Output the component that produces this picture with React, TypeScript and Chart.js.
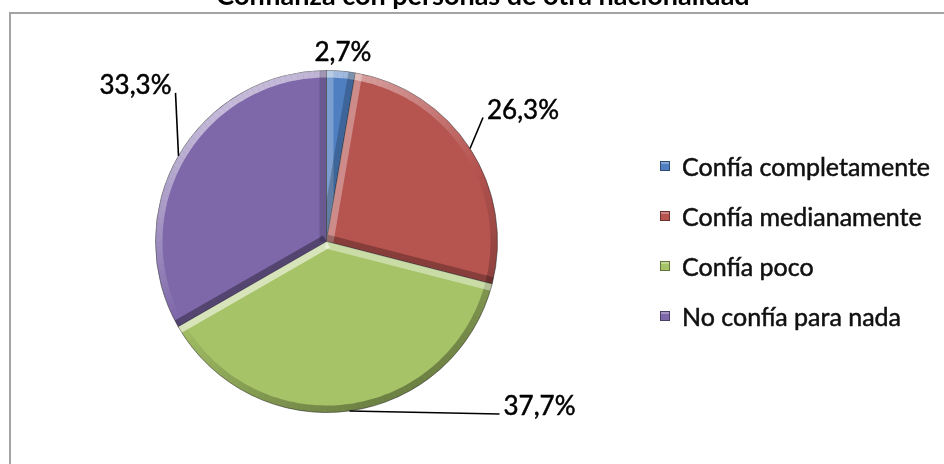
import React, { useEffect, useRef } from "react";
import { Chart, registerables } from "chart.js";

Chart.register(...registerables);

// ---- data ----
const TITLE = "Confianza con personas de otra nacionalidad";
const categories = [
  "Confía completamente",
  "Confía medianamente",
  "Confía poco",
  "No confía para nada",
];
const values = [2.7, 26.3, 37.7, 33.3];
const valueLabels = ["2,7%", "26,3%", "37,7%", "33,3%"];
const sliceColors = ["#4F7FC0", "#B65450", "#A6C367", "#7E68AA"];

// ---- style ----
const W = 944;
const H = 464;
const FONT = "Lato, 'Open Sans', sans-serif";
const LABEL_FONT = `26px ${FONT}`;
const LEGEND_FONT = `25px ${FONT}`;
const TITLE_FONT = `bold 27px ${FONT}`;
const LIGHT = { x: -0.45, y: -0.89 };
const BEVEL = 7;

// offsets of each leader end from its slice's outer mid-point
const LABEL_LAYOUT = [
  { dx: 2, dy: -11, align: "center", leader: false },
  { dx: 13, dy: -31, align: "left", leader: true },
  { dx: 150, dy: 3, align: "left", leader: true },
  { dx: -3, dy: -63, align: "right", leader: true },
];

const LEGEND = { squareX: 660, textX: 682, firstBaseline: 176, step: 50, square: 10 };

function shade(nx: number, ny: number, k = 1) {
  const d = nx * LIGHT.x + ny * LIGHT.y;
  return d >= 0
    ? `rgba(255,255,255,${(0.55 * d * k).toFixed(3)})`
    : `rgba(0,0,0,${(0.34 * -d * k).toFixed(3)})`;
}

function boldText(ctx: CanvasRenderingContext2D, text: string, x: number, y: number) {
  ctx.fillText(text, x, y);
  ctx.lineWidth = 0.5;
  ctx.strokeStyle = ctx.fillStyle as string;
  ctx.strokeText(text, x, y);
}

const decor = {
  id: "decor",
  beforeDraw(chart: any) {
    const ctx = chart.ctx as CanvasRenderingContext2D;
    ctx.save();
    ctx.fillStyle = "#ffffff";
    ctx.fillRect(0, 0, W, H);
    // frame
    ctx.strokeStyle = "#a3a3a3";
    ctx.lineWidth = 2;
    ctx.strokeRect(10, 13, 2000, 2000);
    // title (clipped at the top of the picture)
    ctx.fillStyle = "#000000";
    ctx.font = TITLE_FONT;
    ctx.textAlign = "center";
    ctx.textBaseline = "alphabetic";
    ctx.fillText(TITLE, 483, 5);
    ctx.restore();
  },
  afterDatasetsDraw(chart: any) {
    const ctx = chart.ctx as CanvasRenderingContext2D;
    const meta = chart.getDatasetMeta(0);
    // bevel
    meta.data.forEach((arc: any) => {
      const { x, y, startAngle: s, endAngle: e, outerRadius: r } = arc.getProps(
        ["x", "y", "startAngle", "endAngle", "outerRadius"],
        true
      );
      ctx.save();
      ctx.beginPath();
      ctx.moveTo(x, y);
      ctx.arc(x, y, r, s, e);
      ctx.closePath();
      ctx.clip();
      ctx.lineCap = "butt";
      ctx.lineWidth = BEVEL * 2;
      const steps = Math.max(2, Math.ceil((e - s) / (Math.PI / 90)));
      for (let k = 0; k < steps; k++) {
        const a0 = s + ((e - s) * k) / steps;
        const a1 = s + ((e - s) * (k + 1)) / steps;
        const am = (a0 + a1) / 2;
        ctx.strokeStyle = shade(Math.cos(am), Math.sin(am));
        ctx.beginPath();
        ctx.arc(x, y, r, a0, a1);
        ctx.stroke();
      }
      // radial edges
      ctx.strokeStyle = shade(Math.sin(s), -Math.cos(s));
      ctx.beginPath();
      ctx.moveTo(x, y);
      ctx.lineTo(x + r * Math.cos(s), y + r * Math.sin(s));
      ctx.stroke();
      ctx.strokeStyle = shade(-Math.sin(e), Math.cos(e));
      ctx.beginPath();
      ctx.moveTo(x, y);
      ctx.lineTo(x + r * Math.cos(e), y + r * Math.sin(e));
      ctx.stroke();
      ctx.restore();
    });
  },
  afterDraw(chart: any) {
    const ctx = chart.ctx as CanvasRenderingContext2D;
    const meta = chart.getDatasetMeta(0);
    ctx.save();
    // value labels with leader lines
    meta.data.forEach((arc: any, i: number) => {
      const { x, y, startAngle: s, endAngle: e, outerRadius: r } = arc.getProps(
        ["x", "y", "startAngle", "endAngle", "outerRadius"],
        true
      );
      const m = (s + e) / 2;
      const ax = x + r * Math.cos(m);
      const ay = y + r * Math.sin(m);
      const lay = LABEL_LAYOUT[i];
      const ex = ax + lay.dx;
      const ey = ay + lay.dy;
      if (lay.leader) {
        ctx.strokeStyle = "#000000";
        ctx.lineWidth = 1.6;
        ctx.beginPath();
        ctx.moveTo(ax, ay);
        ctx.lineTo(ex, ey);
        ctx.stroke();
      }
      ctx.fillStyle = "#000000";
      ctx.font = LABEL_FONT;
      ctx.textBaseline = "alphabetic";
      ctx.textAlign = lay.align as CanvasTextAlign;
      const tx = lay.align === "left" ? ex + 4 : lay.align === "right" ? ex - 4 : ex;
      boldText(ctx, valueLabels[i], tx, ey + 1);
    });
    // legend
    categories.forEach((label, i) => {
      const base = LEGEND.firstBaseline + LEGEND.step * i;
      const sq = LEGEND.square;
      const sy = base - 15;
      ctx.fillStyle = sliceColors[i];
      ctx.fillRect(LEGEND.squareX, sy, sq, sq);
      ctx.fillStyle = "rgba(255,255,255,0.3)";
      ctx.fillRect(LEGEND.squareX + 1, sy + 1, sq - 2, 2);
      ctx.strokeStyle = "rgba(0,0,0,0.4)";
      ctx.lineWidth = 1;
      ctx.strokeRect(LEGEND.squareX + 0.5, sy + 0.5, sq - 1, sq - 1);
      ctx.fillStyle = "#111111";
      ctx.font = LEGEND_FONT;
      ctx.textAlign = "left";
      ctx.textBaseline = "alphabetic";
      boldText(ctx, label, LEGEND.textX, base);
    });
    ctx.restore();
  },
};

export default function App() {
  const ref = useRef<HTMLCanvasElement>(null);
  useEffect(() => {
    const chart = new Chart(ref.current!, {
      type: "pie",
      data: {
        labels: categories,
        datasets: [
          {
            data: values,
            backgroundColor: sliceColors,
            borderColor: "rgba(45,45,45,0.55)",
            borderWidth: 1,
          },
        ],
      },
      options: {
        responsive: false,
        animation: false,
        events: [],
        layout: { padding: { left: 155, right: 446, top: 70, bottom: 51 } },
        plugins: {
          legend: { display: false },
          title: { display: false },
          tooltip: { enabled: false },
        },
      },
      plugins: [decor],
    });
    let alive = true;
    const fonts = (document as any).fonts;
    if (fonts && fonts.load) {
      Promise.all([fonts.load(LABEL_FONT), fonts.load(TITLE_FONT)]).then(() => {
        if (alive) chart.update();
      });
    }
    return () => {
      alive = false;
      chart.destroy();
    };
  }, []);
  return (
    <canvas
      ref={ref}
      width={W}
      height={H}
      style={{ position: "fixed", left: 0, top: 0, display: "block" }}
    />
  );
}
